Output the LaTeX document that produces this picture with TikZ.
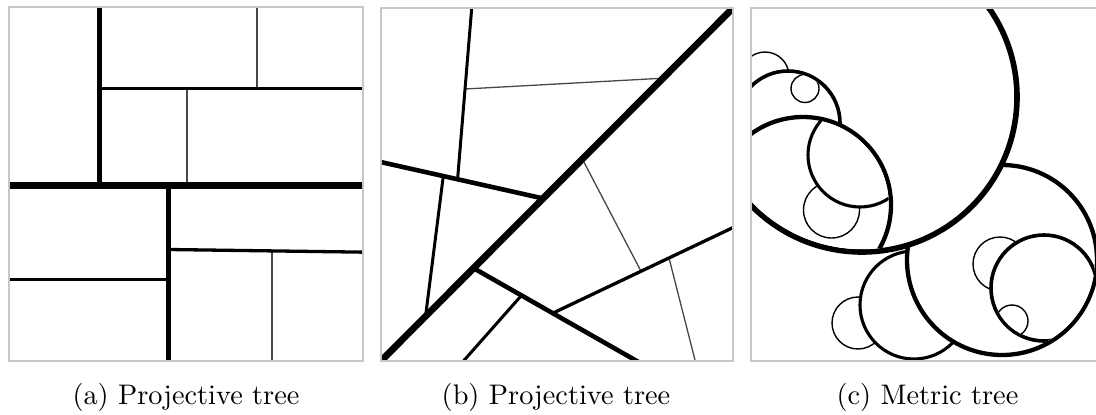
\documentclass[tikz,border=0pt]{standalone}
\usepackage{graphicx}
\begin{document}
\begin{tikzpicture}[x=1pt,y=-1pt,line cap=butt,
  frame/.style={draw=black!22,line width=1.8pt},
  hair/.style={draw=black!72,line width=1.3pt},
  wA/.style={draw=black,line width=3.3pt},
  wB/.style={draw=black,line width=4.6pt},
  wC/.style={draw=black,line width=6.8pt},
  ring0/.style={draw=black,line width=1.4pt,fill=white},
  ring1/.style={draw=black,line width=3.1pt,fill=white},
  ring2/.style={draw=black,line width=3.6pt,fill=white},
  ring3/.style={draw=black,line width=4.3pt,fill=white},
  ring4/.style={draw=black,line width=5.6pt,fill=white},
  caption/.style={anchor=base,inner sep=0pt,font=\fontsize{10}{12}\selectfont}]
\useasboundingbox (0,0) rectangle (1096,415);
% ---------- panel (a)
\begin{scope}
\clip (9,7) rectangle (363,361);
\draw[line width=5pt] (99,3) -- (99,185.7);
\draw[hair] (257,3) -- (257,88.3);
\draw[hair] (187,88.3) -- (187,185.7);
\draw[hair] (272,251) -- (272,365);
\draw[wA] (99,88.3) -- (367,88.3);
\draw[wB] (168.3,185.7) -- (168.3,365);
\draw[line width=3.6pt] (5,279.3) -- (168.3,279.3);
\draw[wA] (168.3,249.5) -- (367,252.2);
\draw[wC] (5,185.7) -- (367,185.7);
\end{scope}
\draw[frame] (9,7) rectangle (363,361);
% ---------- panel (b)
\begin{scope}
\clip (381,8) rectangle (733,361);
\draw[hair] (465,89) -- (663,78.2);
\draw[hair] (582.3,159) -- (641,271.2);
\draw[hair] (669,258) -- (696,364);
\draw[line width=3pt] (472.05,4) -- (457.6,179);
\draw[line width=3pt] (443.3,176) -- (425.6,316);
\draw[line width=3pt] (521.5,295.4) -- (460.8,364);
\draw[wA] (552.7,313.2) -- (738,225.2);
\draw[wB] (377,161.2) -- (543.3,198.5);
\draw[wB] (473.3,268) -- (642,364);
\draw[wC] (378,364) -- (736,5);
\end{scope}
\draw[frame] (381,8) rectangle (733,361);
% ---------- panel (c)
\begin{scope}
\clip (751,8) rectangle (1104,361);
\draw[ring0] (858,323) circle (26pt);
\draw[ring1] (914,305) circle (54pt);
\draw[ring3] (1002,260) circle (95pt);
\begin{scope}
  \clip (1002,260) circle (92.9pt);
  \draw[ring0] (1000,264) circle (27pt);
  \draw[ring2] (1044,288) circle (53pt);
  \begin{scope}
    \clip (1044,288) circle (51.2pt);
    \draw[ring0] (1012,321) circle (16pt);
  \end{scope}
\end{scope}
\draw[ring4] (862,97) circle (155pt);
\begin{scope}
  \clip (862,97) circle (152.2pt);
  \draw[ring0] (765,76) circle (24pt);
  \draw[ring2] (788,123) circle (52pt);
  \begin{scope}
    \clip (788,123) circle (50.2pt);
    \draw[ring0] (805,88.5) circle (14pt);
  \end{scope}
  \draw[ring3] (803,205) circle (88pt);
  \begin{scope}
    \clip (803,205) circle (85.8pt);
    \draw[ring0] (831.5,210) circle (28pt);
    \draw[ring1] (860,155) circle (52pt);
  \end{scope}
\end{scope}
\end{scope}
\draw[frame] (751,8) rectangle (1104,361);
% ---------- captions
\node[caption] (capa) at (186,404) {\scalebox{2.83}{(a) Projective tree}};
\node[caption] (capb) at (556,404) {\scalebox{2.83}{(b) Projective tree}};
\node[caption] (capc) at (927.5,404) {\scalebox{2.83}{(c) Metric tree}};
\end{tikzpicture}
\end{document}
